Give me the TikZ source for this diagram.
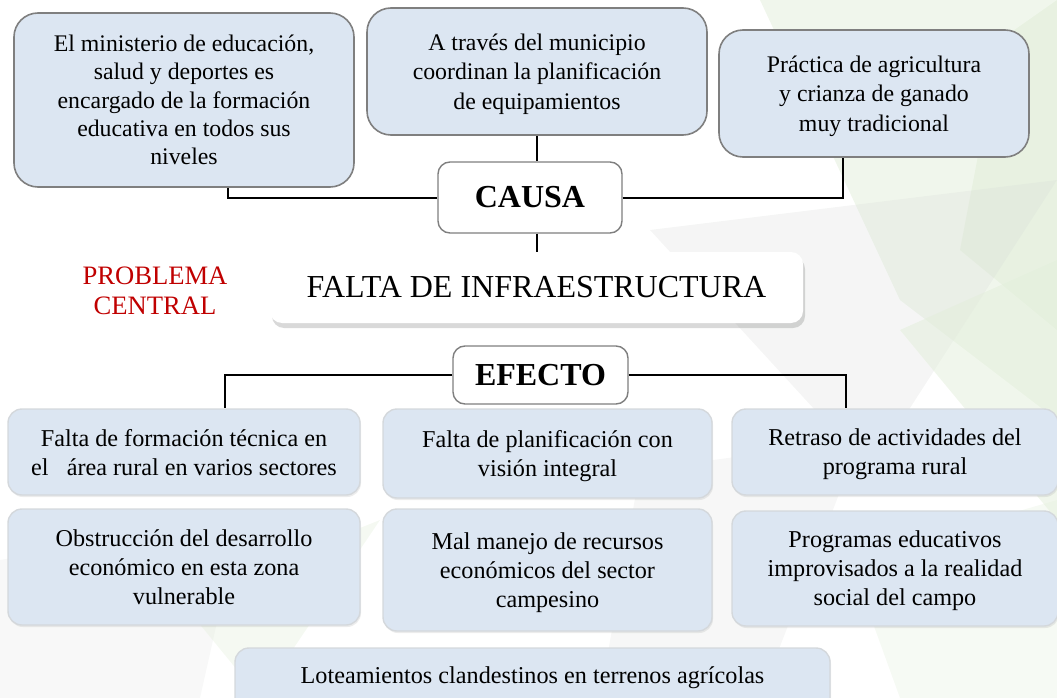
\documentclass[tikz,border=0pt]{standalone}
\usepackage{fontspec}
\setmainfont{Liberation Serif}
\usetikzlibrary{shadows}

\definecolor{boxblue}{HTML}{DCE6F2}
\definecolor{boxline}{HTML}{7F7F7F}
\definecolor{softline}{HTML}{D4D8DC}
\definecolor{probred}{HTML}{C00000}
\definecolor{leafgreen}{HTML}{E2EEDA}
\definecolor{leafgray}{HTML}{D6D9D6}

\tikzset{
    causebox/.style={draw=boxline, line width=1.6pt, fill=boxblue, rounded corners=24pt,
        align=center, inner sep=0pt, text depth=-5pt, font=\fontsize{23.8}{29.5}\selectfont},
    effectbox/.style={draw=softline, line width=1.4pt, fill=boxblue, rounded corners=14pt,
        align=center, inner sep=0pt, text depth=-5pt, font=\fontsize{24.2}{29}\selectfont,
        drop shadow={opacity=0.15, shadow xshift=1pt, shadow yshift=-2pt}},
    titlebox/.style={draw=boxline, line width=1.4pt, fill=white, rounded corners=12pt,
        inner sep=0pt, font=\fontsize{32}{36}\selectfont\bfseries},
    link/.style={line width=2pt, black}
}

\begin{document}
\begin{tikzpicture}[x=1pt, y=-1pt]
    \useasboundingbox (0,0) rectangle (1057,698);
    \clip (0,0) rectangle (1057,698);

    % Background leaves
    \fill[leafgreen, opacity=0.5] (760,0) -- (1057,0) -- (1057,420) -- (900,300) -- cycle;
    \fill[leafgreen, opacity=0.6] (1000,40) -- (1057,0) -- (1057,330) -- (960,250) -- cycle;
    \fill[leafgray, opacity=0.25] (650,230) -- (1057,180) -- (870,470) -- cycle;
    \fill[leafgreen, opacity=0.5] (900,330) -- (1057,260) -- (1057,520) -- cycle;
    \fill[leafgray, opacity=0.2] (640,470) -- (860,440) -- (760,698) -- (600,698) -- cycle;
    \fill[leafgray, opacity=0.18] (0,560) -- (240,520) -- (200,698) -- (0,698) -- cycle;
    \fill[leafgreen, opacity=0.35] (180,600) -- (380,520) -- (260,698) -- cycle;
    \fill[leafgreen, opacity=0.3] (850,560) -- (1057,500) -- (1057,698) -- (900,698) -- cycle;

    % Causes
    \node[causebox, minimum width=340pt, minimum height=174pt, text depth=0pt,
        font=\fontsize{23.8}{28.3}\selectfont] (min) at (184,100)
        {El ministerio de educación,\\salud y deportes es\\encargado de la formación\\educativa en todos sus\\niveles};
    \node[causebox, minimum width=340pt, minimum height=127pt] (mun) at (537,71.5)
        {A través del municipio\\coordinan la planificación\\de equipamientos};
    \node[causebox, minimum width=310pt, minimum height=127pt] (pra) at (874,93.5)
        {Práctica de agricultura\\y crianza de ganado\\muy tradicional};

    % Cause title
    \node[titlebox, minimum width=184pt, minimum height=71pt] (causa) at (530,197.5) {CAUSA};

    % Central problem
    \node[fill=white, rounded corners=12pt, minimum width=533pt, minimum height=71pt,
        inner sep=0pt, font=\fontsize{32}{36}\selectfont,
        drop shadow={opacity=0.3, shadow xshift=2pt, shadow yshift=-5pt}] (falta) at (536.5,287.5)
        {FALTA DE INFRAESTRUCTURA};
    \node[text=probred, align=center, font=\fontsize{26.6}{30}\selectfont] (prob) at (155,291)
        {PROBLEMA\\CENTRAL};

    % Effect title
    \node[titlebox, minimum width=175pt, minimum height=58pt] (efecto) at (540.5,375) {EFECTO};

    % Effects
    \node[effectbox, minimum width=352pt, minimum height=86pt] (e1) at (184,452)
        {Falta de formación técnica en\\el \ \ área rural en varios sectores};
    \node[effectbox, minimum width=329pt, minimum height=89pt] (e2) at (547.5,453.5)
        {Falta de planificación con\\visión integral};
    \node[effectbox, minimum width=326pt, minimum height=86pt] (e3) at (895,452)
        {Retraso de actividades del\\programa rural};
    \node[effectbox, minimum width=352pt, minimum height=116pt, text depth=-2.5pt] (e4) at (184,567)
        {Obstrucción del desarrollo\\económico en esta zona\\vulnerable};
    \node[effectbox, minimum width=329pt, minimum height=122pt, text depth=-9pt] (e5) at (547.5,570)
        {Mal manejo de recursos\\económicos del sector\\campesino};
    \node[effectbox, minimum width=326pt, minimum height=115pt, text depth=-2.5pt] (e6) at (895,568.5)
        {Programas educativos\\improvisados a la realidad\\social del campo};
    \node[effectbox, minimum width=595pt, minimum height=64pt, text depth=9pt] (e7) at (532.5,680)
        {Loteamientos clandestinos en terrenos agrícolas};

    % Connectors of causes
    \draw[link] ([xshift=44pt]min.south) |- (causa.west);
    \draw[link] (causa.east) -| ([xshift=-31pt]pra.south);
    \draw[link] (mun.south) -- (mun.south |- causa.north);
    \draw[link] (causa.south -| mun.south) -- (falta.north -| mun.south);

    % Connectors of effects
    \draw[link] (efecto.west) -| ([xshift=41pt]e1.north);
    \draw[link] (efecto.east) -| ([xshift=-49pt]e3.north);
\end{tikzpicture}
\end{document}
